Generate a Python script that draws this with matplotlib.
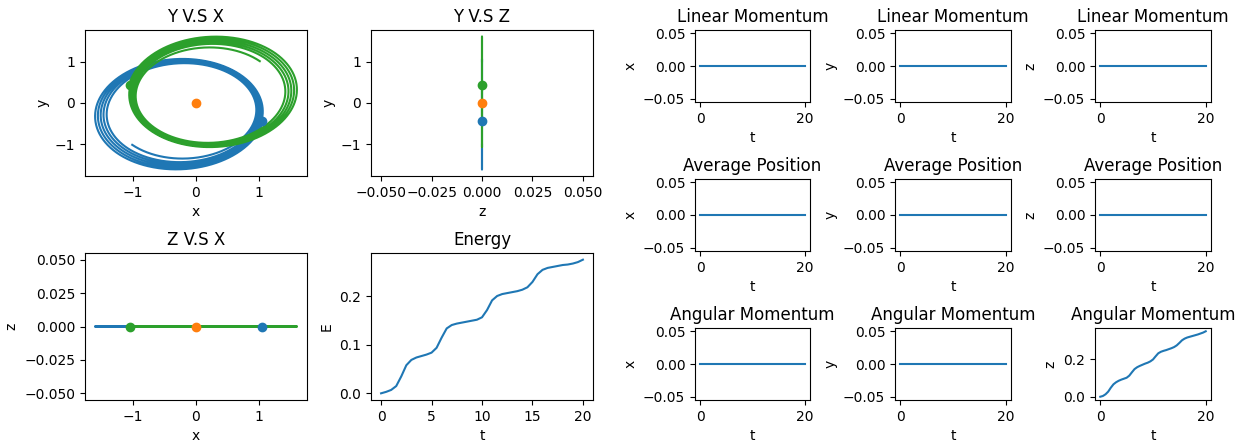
import numpy as np
import matplotlib
matplotlib.use("Agg")
import matplotlib.pyplot as plt

# ---------------- data ----------------
# Orbit of body 0 (blue); body 2 (green) is its point reflection.
# Apoapsis distance at each pass through the lower-left (225 deg) side
blue_apoapsis = [1.43, 1.54, 1.59, 1.64, 1.69, 1.74]
# Periapsis distance at each pass near the upper-right (45 deg) side
blue_periapsis = [0.89, 0.915, 0.94, 0.96, 0.98, 1.00]
apoapsis_dir_deg = 225.0
end_angle_deg = -22.5          # final angular position of body 0

# final positions of the three bodies (blue, orange, green)
body_x = [1.04, 0.0, -1.04]
body_y = [-0.43, 0.0, 0.43]
body_z = [0.0, 0.0, 0.0]

# Energy vs time
energy_t = [0, 0.5, 1, 1.5, 2, 2.5, 3, 3.5, 4, 4.5, 5, 5.5, 6, 6.5, 7, 7.5, 8, 8.5,
            9, 9.5, 10, 10.5, 11, 11.5, 12, 12.5, 13, 13.5, 14, 14.5, 15, 15.5, 16,
            16.5, 17, 17.5, 18, 18.5, 19, 19.5, 20]
energy_E = [0.000, 0.003, 0.007, 0.015, 0.035, 0.058, 0.069, 0.074, 0.077, 0.080,
            0.084, 0.094, 0.115, 0.134, 0.141, 0.144, 0.146, 0.148, 0.150, 0.152,
            0.157, 0.172, 0.192, 0.201, 0.205, 0.207, 0.209, 0.211, 0.214, 0.219,
            0.230, 0.246, 0.255, 0.259, 0.261, 0.263, 0.265, 0.266, 0.268, 0.271,
            0.276]

# Angular momentum (z component) vs time
angmom_z = [0.000, 0.004, 0.013, 0.027, 0.048, 0.066, 0.077, 0.085, 0.091, 0.096,
            0.101, 0.112, 0.130, 0.147, 0.157, 0.164, 0.170, 0.176, 0.181, 0.188,
            0.198, 0.215, 0.231, 0.239, 0.244, 0.248, 0.253, 0.258, 0.264, 0.273,
            0.286, 0.300, 0.309, 0.315, 0.319, 0.323, 0.327, 0.331, 0.336, 0.341,
            0.348]

# Conserved quantities (flat zero)
zero_t = [0, 20]
zero_v = [0.0, 0.0]

row_titles = ["Linear Momentum", "Average Position", "Angular Momentum"]
comp_labels = ["x", "y", "z"]

# ---------------- build the orbit path from the read apsides ----------------
pass_angles = np.radians(apoapsis_dir_deg + 360.0 * np.arange(len(blue_apoapsis)))
theta = np.radians(np.arange(apoapsis_dir_deg,
                             apoapsis_dir_deg + 360.0 * (len(blue_apoapsis) - 1)
                             + ((end_angle_deg - apoapsis_dir_deg) % 360.0) + 0.01, 0.5))
Q = np.interp(theta, pass_angles, blue_apoapsis)
q = np.interp(theta, pass_angles + np.pi, blue_periapsis)
p = 2 * q * Q / (q + Q)
e = (Q - q) / (Q + q)
r = p / (1 + e * np.cos(theta - np.radians(apoapsis_dir_deg - 180.0)))
bx, by = r * np.cos(theta), r * np.sin(theta)
bz = np.zeros_like(bx)
paths = [(bx, by, bz), (np.array([0.0]), np.array([0.0]), np.array([0.0])),
         (-bx, -by, -bz)]
colors = ["C0", "C1", "C2"]

# ---------------- figure ----------------
W, H = 1251, 444
fig = plt.figure(figsize=(W / 100, H / 100), dpi=100)


def add_ax(l, r_, t, b):
    return fig.add_axes([l / W, 1 - b / H, (r_ - l) / W, (b - t) / H])


ax_yx = add_ax(85, 307, 30, 176)
ax_yz = add_ax(371, 593, 30, 176)
ax_zx = add_ax(85, 307, 253, 400)
ax_e = add_ax(371, 593, 253, 400)

for (px, py, pz), c in zip(paths, colors):
    ax_yx.plot(px, py, color=c)
    ax_yz.plot(pz, py, color=c)
    ax_zx.plot(px, pz, color=c)
for i, c in enumerate(colors):
    ax_yx.scatter(body_x[i], body_y[i], color=c, zorder=3)
    ax_yz.scatter(body_z[i], body_y[i], color=c, zorder=3)
    ax_zx.scatter(body_x[i], body_z[i], color=c, zorder=3)

ax_yx.set_title("Y V.S X")
ax_yx.set_xlabel("x")
ax_yx.set_ylabel("y")
ax_yz.set_title("Y V.S Z")
ax_yz.set_xlabel("z")
ax_yz.set_ylabel("y")
ax_zx.set_title("Z V.S X")
ax_zx.set_xlabel("x")
ax_zx.set_ylabel("z")

ax_e.plot(energy_t, energy_E, color="C0")
ax_e.set_title("Energy")
ax_e.set_xlabel("t")
ax_e.set_ylabel("E")

col_lr = [(695, 810), (895, 1011), (1095, 1211)]
row_tb = [(30, 102), (179, 251), (328, 400)]
for i, title in enumerate(row_titles):
    for j, comp in enumerate(comp_labels):
        ax = add_ax(col_lr[j][0], col_lr[j][1], row_tb[i][0], row_tb[i][1])
        if i == 2 and j == 2:
            ax.plot(energy_t, angmom_z, color="C0")
            ax.set_yticks([0.0, 0.2])
        else:
            ax.plot(zero_t, zero_v, color="C0")
        ax.set_xticks([0, 20])
        ax.set_title(title)
        ax.set_xlabel("t")
        ax.set_ylabel(comp)

fig.savefig("out.png", dpi=100)
